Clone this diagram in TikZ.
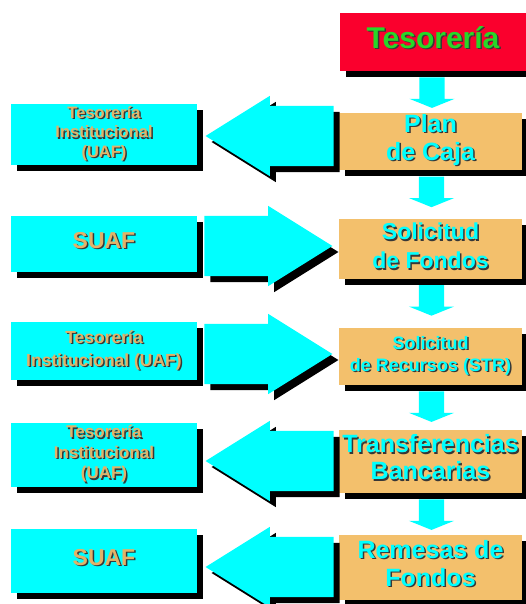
\documentclass[tikz,border=0pt]{standalone}
\usepackage{fontspec}
\setmainfont{Liberation Sans}
\usetikzlibrary{calc,positioning,shapes.arrows,shadows}
\definecolor{tesred}{RGB}{250,0,45}
\definecolor{tesgreen}{RGB}{40,215,40}
\definecolor{boxorange}{RGB}{243,192,108}
\definecolor{boxcyan}{RGB}{0,255,255}
\definecolor{tantext}{RGB}{226,178,104}
\definecolor{darkshade}{RGB}{55,55,55}
% text with a small dark shadow
\newcommand{\shtext}[3]{\leavevmode\rlap{\kern1.5pt\raisebox{-1.5pt}{\color{#2}\begin{tabular}{@{}c@{}}#3\end{tabular}}}%
  {\color{#1}\begin{tabular}{@{}c@{}}#3\end{tabular}}}
\tikzset{
  blackshadow/.style={drop shadow={shadow xshift=6pt,shadow yshift=-6pt,fill=black,opacity=1}},
  rbox/.style={rectangle,fill=boxorange,minimum width=183pt,inner sep=0pt,blackshadow},
  lbox/.style={rectangle,fill=boxcyan,minimum width=186pt,inner sep=0pt,blackshadow},
  bigarrow/.style={single arrow,fill=boxcyan,minimum height=128pt,inner xsep=0pt,inner ysep=30pt,
    single arrow head extend=10pt,single arrow tip angle=64,blackshadow},
  downarrow/.style={single arrow,fill=boxcyan,minimum height=30pt,inner sep=12.5pt,
    single arrow head extend=10pt,single arrow tip angle=136,shape border rotate=270,anchor=tail}
}
\begin{document}
\begin{tikzpicture}[x=1pt,y=-1pt]
  \useasboundingbox (0,0) rectangle (526,604);
  % right column
  \node[rbox,fill=tesred,minimum width=186pt,minimum height=58pt,font=\fontsize{30}{34}\selectfont\bfseries] (tes) at (433,42)
    {\shtext{tesgreen}{darkshade}{Tesorería}};
  \node[rbox,minimum height=57pt,font=\fontsize{25}{28}\selectfont\bfseries] (plan) at (430.5,141.5)
    {\shtext{boxcyan}{darkshade}{Plan\\de Caja}};
  \node[rbox,minimum height=58pt,font=\fontsize{23}{29}\selectfont\bfseries] (fondos) at (430.5,249)
    {\shtext{boxcyan}{darkshade}{Solicitud\\de Fondos}};
  \node[rbox,minimum height=57pt,font=\fontsize{18}{22}\selectfont\bfseries] (str) at (430.5,356.5)
    {\shtext{boxcyan}{darkshade}{Solicitud\\de Recursos (STR)}};
  \node[rbox,minimum height=63pt,font=\fontsize{25}{27}\selectfont\bfseries] (transf) at (430.5,461.5)
    {\shtext{boxcyan}{darkshade}{Transferencias\\Bancarias}};
  \node[rbox,minimum height=65pt,font=\fontsize{25}{28}\selectfont\bfseries] (remesas) at (430.5,567.5)
    {\shtext{boxcyan}{darkshade}{Remesas de\\Fondos}};
  % left column
  \node[lbox,minimum height=57pt,font=\fontsize{16.5}{19.5}\selectfont\bfseries] (uafa) at (104,134.5)
    {\shtext{tantext}{darkshade}{Tesorería\\Institucional\\(UAF)}};
  \node[lbox,minimum height=56pt,font=\fontsize{23}{26}\selectfont\bfseries] (suafa) at (104,244)
    {\shtext{tantext}{darkshade}{SUAF}};
  \node[lbox,minimum height=58pt,font=\fontsize{17.5}{23}\selectfont\bfseries] (uafb) at (104,351)
    {\shtext{tantext}{darkshade}{Tesorería\\Institucional (UAF)}};
  \node[lbox,minimum height=64pt,font=\fontsize{17}{20.5}\selectfont\bfseries] (uafc) at (104,455)
    {\shtext{tantext}{darkshade}{Tesorería\\Institucional\\(UAF)}};
  \node[lbox,minimum height=64pt,font=\fontsize{23}{26}\selectfont\bfseries] (suafb) at (104,561)
    {\shtext{tantext}{darkshade}{SUAF}};
  % down arrows
  \node[downarrow] (d1) at ($(tes.south)+(-1,6)$) {};
  \node[downarrow] (d2) at ($(plan.south)+(1,6)$) {};
  \node[downarrow] (d3) at ($(fondos.south)+(1,6)$) {};
  \node[downarrow] (d4) at ($(str.south)+(1,6)$) {};
  \node[downarrow] (d5) at ($(transf.south)+(1,6)$) {};
  % big arrows
  \node[bigarrow,shape border rotate=180,anchor=tip] (a1) at ($(uafa.east)+(8,1.5)$) {};
  \node[bigarrow,anchor=tail] (a2) at ($(suafa.east)+(7,2)$) {};
  \node[bigarrow,anchor=tail] (a3) at ($(uafb.east)+(7,3)$) {};
  \node[bigarrow,shape border rotate=180,anchor=tip] (a4) at ($(uafc.east)+(8,6)$) {};
  \node[bigarrow,shape border rotate=180,anchor=tip] (a5) at ($(suafb.east)+(8,6)$) {};
\end{tikzpicture}
\end{document}
